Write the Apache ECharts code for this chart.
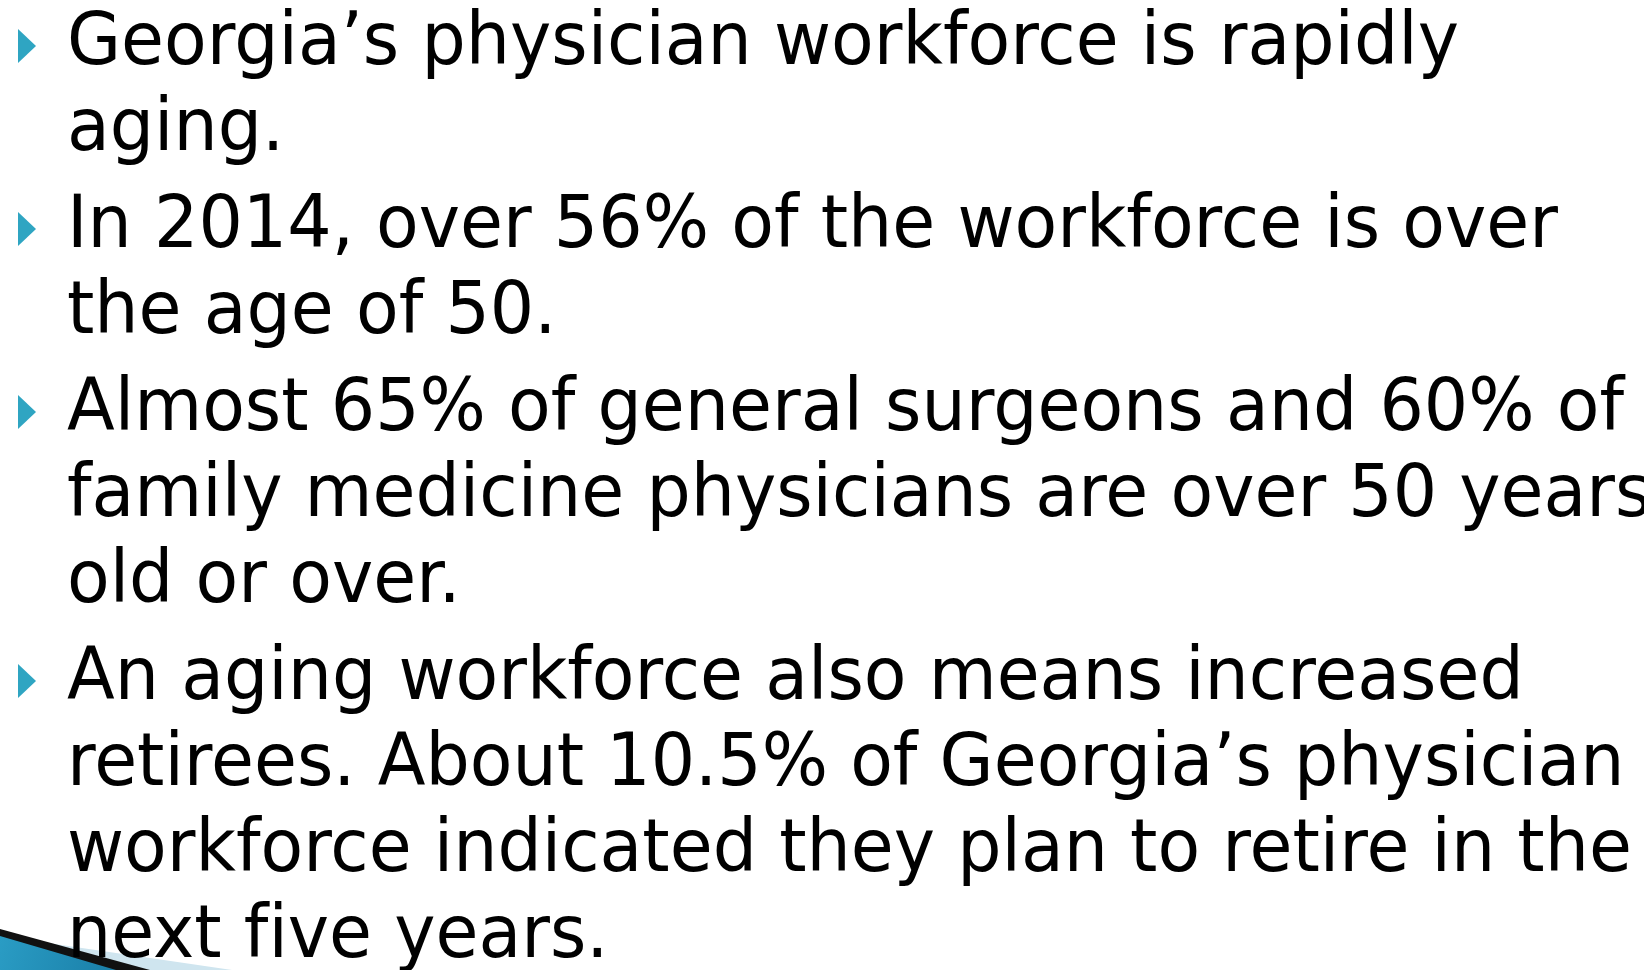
<!DOCTYPE html>
<html>
<head>
<meta charset="utf-8">
<script src="https://cdn.jsdelivr.net/npm/echarts@6/dist/echarts.min.js"></script>
<style>
  html, body { margin: 0; padding: 0; background: #fff; }
  #main { width: 1644px; height: 970px; }
</style>
</head>
<body>
<div id="main"></div>
<script>
// slide bullets, one array of wrapped lines per bullet
const bullet1 = ['Georgia’s physician workforce is rapidly', 'aging.'];
const bullet2 = ['In 2014, over 56% of the workforce is over', 'the age of 50.'];
const bullet3 = ['Almost 65% of general surgeons and 60% of', 'family medicine physicians are over 50 years', 'old or over.'];
const bullet4 = ['An aging workforce also means increased', 'retirees. About 10.5% of Georgia’s physician', 'workforce indicated they plan to retire in the', 'next five years.'];
const bullets = [bullet1, bullet2, bullet3, bullet4];

const FONT_SIZE = 73;
const FONT = FONT_SIZE + 'px "DejaVu Sans"';
const TEXT_X = 67;
const FIRST_BASE = 67;
const LINE_STEP = 86;
const PARA_GAP = 11;
const LINE1_WIDTH = 1392; // width of first line in the slide

// squeeze text horizontally so line widths match the slide
const ctx = document.createElement('canvas').getContext('2d');
ctx.font = FONT;
const sx = LINE1_WIDTH / ctx.measureText(bullet1[0]).width;

var myChart = echarts.init(document.getElementById('main'));

const elements = [];

// corner decoration, bottom-left
elements.push({
  type: 'polygon',
  shape: { points: [[0, 936], [232, 970], [0, 970]] },
  style: { fill: '#cfe5ef' }
});
elements.push({
  type: 'polygon',
  shape: { points: [[0, 929], [150, 970], [0, 970]] },
  style: { fill: '#111' }
});
elements.push({
  type: 'polygon',
  shape: { points: [[0, 936], [116, 970], [0, 970]] },
  style: {
    fill: new echarts.graphic.LinearGradient(0, 0, 1, 1, [
      { offset: 0, color: '#2a9cc4' },
      { offset: 1, color: '#1a7fa8' }
    ])
  }
});

let base = FIRST_BASE;
bullets.forEach(function (lines, i) {
  if (i > 0) base += PARA_GAP;
  // teal arrow bullet
  elements.push({
    type: 'polygon',
    shape: { points: [[18, base - 38], [36, base - 21], [18, base - 4]] },
    style: { fill: '#2fa5c2' }
  });
  lines.forEach(function (line) {
    elements.push({
      type: 'text',
      x: TEXT_X,
      y: base - 22,
      scaleX: sx,
      style: {
        // zero-width non-joiner keeps "fi" from turning into a ligature
        text: line.replace(/fi/g, 'f\u200Ci'),
        font: FONT,
        fill: '#000',
        textAlign: 'left',
        textVerticalAlign: 'middle'
      }
    });
    base += LINE_STEP;
  });
});

const option = {
  backgroundColor: '#fff',
  animation: false,
  graphic: { elements: elements }
};
myChart.setOption(option);
window.onresize = function () {
  myChart.resize();
};
</script>
</body>
</html>
